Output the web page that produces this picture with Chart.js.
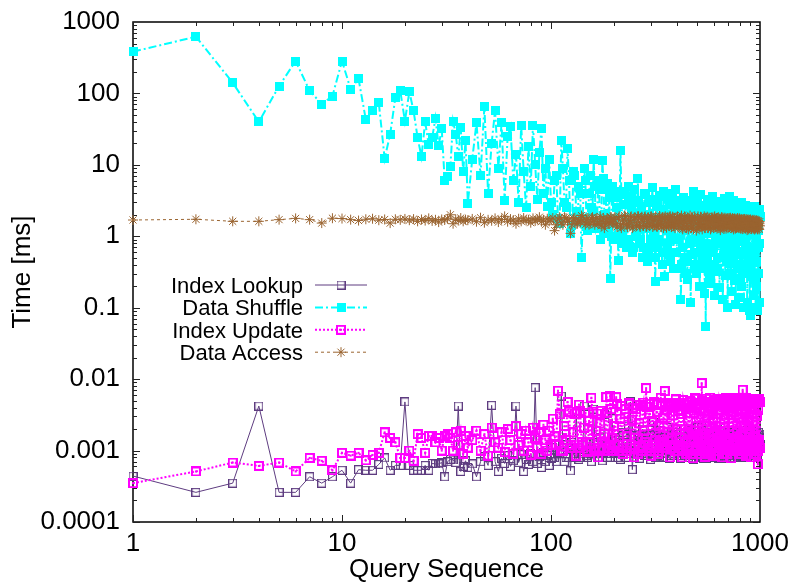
<!DOCTYPE html>
<html>
<head>
<meta charset="utf-8">
<script src="https://cdn.jsdelivr.net/npm/chart.js@4"></script>
<style>
  html, body { margin: 0; padding: 0; background: #fff; }
  canvas { display: block; }
</style>
</head>
<body>
<canvas id="chart" width="795" height="583"></canvas>
<script>
const queries = [
  1, 2, 3, 4, 5, 6, 7, 8, 9, 10, 11, 12, 13, 14, 15, 16, 17, 18, 19, 20,
  21, 22, 23, 24, 25, 26, 27, 28, 29, 30, 31, 32, 33, 34, 35, 36, 37, 38, 39, 40,
  42, 44, 46, 48, 50, 52, 54, 56, 58, 60, 62, 64, 66, 68, 70, 72, 74, 76, 78, 80,
  82, 84, 86, 88, 90, 92, 94, 96, 98, 100,
  102, 104, 106, 108, 110, 112, 114, 116, 118, 120, 122, 124, 126, 128, 130, 132, 134, 136, 138, 140,
  142, 144, 146, 148, 150, 152, 154, 156, 158, 160, 162, 164, 166, 168, 170, 172, 174, 176, 178, 180,
  182, 184, 186, 188, 190, 192, 194, 196, 198, 200,
  202, 205, 207, 210, 212, 215, 217, 220, 222, 225, 227, 230, 232, 235, 237, 240, 242, 245, 247, 250,
  252, 255, 257, 260, 262, 265, 267, 270, 272, 275, 277, 280, 282, 285, 287, 290, 292, 295, 297, 300,
  302, 305, 307, 310, 312, 315, 317, 320, 322, 325, 327, 330, 332, 335, 337, 340, 342, 345, 347, 350,
  352, 355, 357, 360, 362, 365, 367, 370, 372, 375, 377, 380, 382, 385, 387, 390, 392, 395, 397, 400,
  403, 406, 409, 412, 415, 418, 421, 424, 427, 430, 433, 436, 439, 442, 445, 448, 451, 454, 457, 460,
  463, 466, 469, 472, 475, 478, 481, 484, 487, 490, 493, 496, 499, 502, 505, 508, 511, 514, 517, 520,
  523, 526, 529, 532, 535, 538, 541, 544, 547, 550, 553, 556, 559, 562, 565, 568, 571, 574, 577, 580,
  583, 586, 589, 592, 595, 598, 601, 604, 607, 610, 613, 616, 619, 622, 625, 628, 631, 634, 637, 640,
  643, 646, 649, 652, 655, 658, 661, 664, 667, 670, 673, 676, 679, 682, 685, 688, 691, 694, 697, 700,
  703, 706, 709, 712, 715, 718, 721, 724, 727, 730, 733, 736, 739, 742, 745, 748, 751, 754, 757, 760,
  763, 766, 769, 772, 775, 778, 781, 784, 787, 790, 793, 796, 799, 802, 805, 808, 811, 814, 817, 820,
  823, 826, 829, 832, 835, 838, 841, 844, 847, 850, 853, 856, 859, 862, 865, 868, 871, 874, 877, 880,
  883, 886, 889, 892, 895, 898, 901, 904, 907, 910, 913, 916, 919, 922, 925, 928, 931, 934, 937, 940,
  943, 946, 949, 952, 955, 958, 961, 964, 967, 970, 973, 976, 979, 982, 985, 988, 991, 994, 997, 1000
];

const indexLookup = [
  0.00044, 0.00026, 0.00035, 0.0042, 0.00026, 0.00026, 0.00043, 0.00035, 0.00043, 0.00053,
  0.00035, 0.00054, 0.00053, 0.00053, 0.00064, 0.00079, 0.00053, 0.00062, 0.00062, 0.0048,
  0.00062, 0.00053, 0.00053, 0.00053, 0.00062, 0.00053, 0.00066, 0.00065, 0.00065, 0.00068,
  0.00043, 0.0007, 0.00075, 0.00074, 0.00068, 0.0042, 0.00051, 0.0006, 0.00072, 0.00058,
  0.00065, 0.00043, 0.0007, 0.00082, 0.00062, 0.0043, 0.0007, 0.00051, 0.00078, 0.00066,
  0.00085, 0.0006, 0.00072, 0.0042, 0.00068, 0.00088, 0.00051, 0.00075, 0.00064, 0.0009,
  0.0007, 0.0076, 0.00066, 0.00082, 0.00058, 0.00095, 0.0007, 0.00085, 0.00062, 0.00078,
  0.0011, 0.0008, 0.0007, 0.00095, 0.0009, 0.0058, 0.0012, 0.0007, 0.0008, 0.0011,
  0.0011, 0.00052, 0.0013, 0.0009, 0.0008, 0.0035, 0.0011, 0.00075, 0.0008, 0.0012,
  0.0009, 0.0042, 0.0013, 0.00085, 0.0008, 0.0013, 0.0011, 0.0007, 0.0009, 0.0038,
  0.0013, 0.001, 0.0011, 0.0008, 0.0008, 0.0015, 0.0012, 0.00072, 0.0009, 0.0032,
  0.0013, 0.0009, 0.0008, 0.0012, 0.0011, 0.0008, 0.0009, 0.0028, 0.0012, 0.001,
  0.0015, 0.0009, 0.0008, 0.0014, 0.0013, 0.00075, 0.001, 0.0018, 0.0016, 0.001,
  0.0013, 0.0008, 0.0009, 0.0022, 0.0011, 0.0048, 0.0016, 0.00054, 0.0008, 0.0012,
  0.0015, 0.0009, 0.001, 0.0016, 0.0017, 0.00078, 0.0014, 0.0011, 0.0009, 0.002,
  0.0016, 0.00085, 0.00085, 0.0013, 0.0014, 0.0009, 0.001, 0.0017, 0.0016, 0.00075,
  0.0009, 0.0012, 0.0012, 0.0025, 0.0017, 0.0008, 0.0009, 0.0011, 0.00085, 0.0015,
  0.0016, 0.00082, 0.0009, 0.0019, 0.0015, 0.001, 0.0013, 0.0008, 0.0009, 0.0014,
  0.0016, 0.0009, 0.0009, 0.0021, 0.0015, 0.0011, 0.0013, 0.00078, 0.00085, 0.0016,
  0.0017, 0.0009, 0.0009, 0.0012, 0.0016, 0.00085, 0.001, 0.0018, 0.0014, 0.001,
  0.0013, 0.0009, 0.00085, 0.0015, 0.0017, 0.00078, 0.00095, 0.0012, 0.0011, 0.002,
  0.0018, 0.00085, 0.0009, 0.0011, 0.0012, 0.0016, 0.0015, 0.0008, 0.00088, 0.0013,
  0.0016, 0.00095, 0.001, 0.0019, 0.0014, 0.00075, 0.00085, 0.0012, 0.0019, 0.0009,
  0.0009, 0.0017, 0.0013, 0.0011, 0.0021, 0.0008, 0.00082, 0.0014, 0.0017, 0.001,
  0.0009, 0.0022, 0.0015, 0.00082, 0.00078, 0.0012, 0.0018, 0.0009, 0.001, 0.0016,
  0.0014, 0.00078, 0.0019, 0.0011, 0.00085, 0.0013, 0.0016, 0.00088, 0.001, 0.0018,
  0.0017, 0.001, 0.0013, 0.0008, 0.0009, 0.0015, 0.0018, 0.0011, 0.0012, 0.00085,
  0.00088, 0.0013, 0.0016, 0.0009, 0.001, 0.002, 0.0014, 0.00078, 0.0019, 0.0012,
  0.0015, 0.001, 0.00085, 0.0016, 0.0013, 0.00082, 0.0018, 0.0011, 0.0009, 0.0014,
  0.0016, 0.0009, 0.00078, 0.0012, 0.0014, 0.0008, 0.001, 0.0017, 0.0019, 0.001,
  0.0016, 0.00085, 0.0009, 0.0013, 0.0018, 0.0011, 0.0013, 0.00078, 0.001, 0.0015,
  0.0017, 0.0009, 0.00085, 0.0012, 0.0011, 0.0019, 0.0015, 0.0008, 0.0018, 0.0011,
  0.0017, 0.001, 0.0009, 0.0014, 0.0015, 0.00085, 0.00082, 0.0012, 0.0018, 0.0009,
  0.0011, 0.0016, 0.0014, 0.0008, 0.0017, 0.0011, 0.00085, 0.0013, 0.0016, 0.00088,
  0.0009, 0.0015, 0.0016, 0.001, 0.0014, 0.00082, 0.0018, 0.0012, 0.001, 0.0017,
  0.0015, 0.0009, 0.0019, 0.0011, 0.0013, 0.0008, 0.00088, 0.0014, 0.0017, 0.001,
  0.0018, 0.0012, 0.0014, 0.00085, 0.001, 0.0016, 0.0017, 0.0009, 0.0019, 0.0011,
  0.00088, 0.0013, 0.0016, 0.0008, 0.0011, 0.0015, 0.0018, 0.001, 0.0009, 0.0012,
  0.0016, 0.0009, 0.0009, 0.0014, 0.0019, 0.0011, 0.0012, 0.0018, 0.0017, 0.00085,
  0.00095, 0.0013, 0.0011, 0.0016, 0.0018, 0.001, 0.0013, 0.0015, 0.0017, 0.0012
];

const dataShuffle = [
  384, 622, 141, 40, 127, 284, 109, 71, 92, 284,
  115, 160, 43, 57, 74, 12.2, 27, 87, 109, 41,
  106, 57, 24, 13, 40, 19, 24, 45, 18.6, 32,
  6, 6.8, 9.4, 41, 27, 13, 33, 8, 22, 2.9,
  12, 39, 7, 65, 4, 20, 58, 9, 39, 3.2,
  25, 34, 6, 14, 3, 36, 8, 2.5, 18, 5,
  36, 10, 3.3, 15, 32, 4, 9, 2.6, 12, 3,
  2.0, 6, 7, 1.8, 1.5, 22, 9, 3, 2.5, 17,
  6, 1.1, 1.4, 8, 7, 2.2, 1.6, 5, 4, 0.5,
  1.8, 9, 6, 1.5, 1.2, 4, 7, 2.5, 2.2, 12,
  5, 1.3, 1.5, 6, 4.5, 0.9, 1.4, 11.5, 6.5, 2,
  1.1, 4.5, 5.5, 1.2, 3.5, 0.26, 1.0, 5, 4.0, 1.6,
  0.9, 2.5, 3.5, 0.46, 1.0, 16, 4.2, 1.2, 0.8, 3.8,
  2.8, 0.7, 0.9, 5, 3.6, 1.5, 2.4, 0.6, 0.7, 3,
  4.5, 1, 1.1, 6.5, 3.2, 0.8, 0.9, 2.2, 2.6, 0.5,
  0.7, 4, 3.8, 1.3, 2.0, 0.45, 0.6, 3.2, 3.0, 0.9,
  0.8, 4.8, 3.3, 1.1, 1.8, 0.23, 0.5, 2.6, 2.9, 0.7,
  0.9, 3.6, 3.7, 1.6, 1.9, 0.4, 0.6, 4.2, 2.4, 0.27,
  4.0, 2, 1.3, 0.8, 0.6, 3.5, 2.8, 0.55, 0.45, 1.8,
  1.2, 4, 3.0, 0.35, 0.9, 2.4, 1.4, 4.5, 3.2, 0.6,
  0.9, 2.8, 1.6, 0.35, 2.4, 0.13, 0.4, 1.9, 0.7, 3.5,
  2.1, 0.5, 0.3, 1.2, 1.7, 0.25, 0.45, 2.6, 3.0, 0.8,
  1.5, 0.12, 0.55, 3.2, 0.9, 4.2, 2.5, 0.6, 0.4, 1.6,
  1.9, 0.3, 0.6, 2.9, 2.3, 0.9, 1.2, 0.2, 0.7, 3.8,
  0.35, 1.4, 2.0, 0.45, 0.6, 2.2, 1.4, 0.16, 0.8, 0.054,
  2.7, 1.1, 0.5, 3.3, 1.8, 0.38, 0.28, 1.7, 2.2, 0.22,
  0.6, 2.7, 1.1, 3.6, 2.3, 0.7, 1.8, 0.15, 0.4, 1.3,
  0.9, 2.5, 2.0, 0.32, 0.35, 0.9, 1.2, 3.1, 2.6, 0.19,
  0.5, 1.8, 2.4, 0.5, 0.8, 2.9, 1.5, 0.13, 2.8, 1.1,
  0.6, 3.4, 1.6, 0.28, 2.2, 0.75, 0.45, 2.3, 1.7, 0.1,
  0.55, 1.5, 1.2, 3.6, 2.5, 0.42, 0.3, 1.0, 1.9, 0.17,
  0.8, 2.6, 2.2, 0.6, 0.5, 3.2, 1.4, 0.24, 2.9, 1.3,
  0.7, 0.11, 1.3, 2.1, 2.4, 0.55, 0.4, 2.8, 1.7, 0.14,
  2.3, 1.2, 0.9, 0.35, 0.26, 2.4, 1.1, 3.0, 1.8, 0.2,
  2.5, 0.85, 0.4, 2.2, 1.5, 0.1, 0.6, 1.6, 2.1, 0.3,
  0.8, 2.7, 1.9, 0.65, 2.4, 0.12, 0.35, 1.9, 1.3, 0.45,
  0.7, 2.5, 1.6, 0.09, 2.2, 1.1, 0.5, 0.078, 1.2, 2.3,
  2.0, 0.27, 0.3, 1.4, 2.3, 0.15, 0.6, 2.0, 1.5, 0.5,
  0.25, 2.6, 1.7, 0.1, 2.1, 1.0, 0.45, 0.2, 1.0, 1.8,
  2.2, 0.09, 0.3, 0.7, 1.2, 1.5, 2.4, 0.12, 0.8, 1.9
];

const indexUpdate = [
  0.00035, 0.00051, 0.00068, 0.00061, 0.00068, 0.00051, 0.00079, 0.00072, 0.00053, 0.00093,
  0.00085, 0.00093, 0.00073, 0.00087, 0.00093, 0.0018, 0.0015, 0.0013, 0.00079, 0.00079,
  0.001, 0.00072, 0.0017, 0.0015, 0.00093, 0.0016, 0.0016, 0.0013, 0.0015, 0.001,
  0.0016, 0.0017, 0.0015, 0.001, 0.0018, 0.0012, 0.0019, 0.0009, 0.0016, 0.0011,
  0.0014, 0.0019, 0.001, 0.0017, 0.00085, 0.0021, 0.0013, 0.0011, 0.0018, 0.00095,
  0.002, 0.0014, 0.0009, 0.0022, 0.0012, 0.0017, 0.001, 0.0019, 0.0013, 0.00088,
  0.0021, 0.0015, 0.0011, 0.0018, 0.0009, 0.0023, 0.0014, 0.001, 0.0019, 0.0012,
  0.0028, 0.0016, 0.0012, 0.0069, 0.0032, 0.001, 0.001, 0.0022, 0.0014, 0.0048,
  0.0035, 0.0012, 0.0011, 0.0018, 0.0033, 0.00085, 0.0011, 0.0044, 0.0036, 0.0013,
  0.0012, 0.0021, 0.0034, 0.00095, 0.001, 0.0026, 0.0013, 0.0055, 0.0035, 0.0011,
  0.001, 0.0019, 0.0033, 0.0008, 0.0011, 0.0024, 0.0036, 0.0013, 0.001, 0.0017,
  0.0013, 0.0056, 0.0034, 0.001, 0.0011, 0.0058, 0.0038, 0.0015, 0.001, 0.0022,
  0.0012, 0.0056, 0.0045, 0.0012, 0.001, 0.0028, 0.0042, 0.0009, 0.0011, 0.0033,
  0.0038, 0.0016, 0.001, 0.0045, 0.0046, 0.0011, 0.0012, 0.0027, 0.004, 0.0008,
  0.0011, 0.0038, 0.0044, 0.0015, 0.0009, 0.0024, 0.0043, 0.001, 0.0011, 0.0042,
  0.0047, 0.0019, 0.0013, 0.0075, 0.0041, 0.0012, 0.0011, 0.0032, 0.0045, 0.00085,
  0.001, 0.0026, 0.0012, 0.0048, 0.0046, 0.0014, 0.0011, 0.0035, 0.0044, 0.0009,
  0.001, 0.0022, 0.0013, 0.0055, 0.0046, 0.0013, 0.0011, 0.0029, 0.0012, 0.0068,
  0.0045, 0.0011, 0.0011, 0.0037, 0.0046, 0.0018, 0.0042, 0.0008, 0.0012, 0.0044,
  0.0047, 0.0015, 0.0011, 0.0031, 0.0044, 0.001, 0.0012, 0.0052, 0.0046, 0.002,
  0.0012, 0.0045, 0.0036, 0.0011, 0.0015, 0.0032, 0.0042, 0.0008, 0.001, 0.0051,
  0.0046, 0.0017, 0.0013, 0.0038, 0.0044, 0.0009, 0.0018, 0.0026, 0.0011, 0.0049,
  0.0039, 0.0013, 0.0009, 0.0041, 0.0047, 0.00078, 0.0014, 0.0034, 0.0055, 0.0019,
  0.0011, 0.0053, 0.004, 0.001, 0.0016, 0.0029, 0.0009, 0.0046, 0.0043, 0.0012,
  0.0017, 0.0088, 0.0049, 0.0015, 0.001, 0.0036, 0.0044, 0.00082, 0.0012, 0.0048,
  0.0053, 0.0022, 0.0011, 0.0031, 0.0042, 0.0009, 0.0016, 0.0055, 0.0046, 0.0014,
  0.0009, 0.0039, 0.0047, 0.0011, 0.0014, 0.0027, 0.0012, 0.005, 0.0045, 0.00085,
  0.0011, 0.0043, 0.0051, 0.0018, 0.0013, 0.0033, 0.0048, 0.001, 0.0015, 0.0052,
  0.0049, 0.0016, 0.0011, 0.0037, 0.0043, 0.0008, 0.0013, 0.0046, 0.0052, 0.0021,
  0.0009, 0.0028, 0.0045, 0.0012, 0.0014, 0.0054, 0.005, 0.0009, 0.0012, 0.004,
  0.0046, 0.0015, 0.0013, 0.0049, 0.0052, 0.0011, 0.001, 0.0031, 0.0041, 0.00078,
  0.0012, 0.0044, 0.0054, 0.0024, 0.0011, 0.0035, 0.0047, 0.001, 0.0014, 0.0053,
  0.005, 0.0013, 0.001, 0.0038, 0.0048, 0.0019, 0.0012, 0.0047, 0.0053, 0.0009,
  0.0011, 0.0029, 0.0014, 0.0051, 0.0049, 0.0012, 0.0009, 0.0036, 0.0045, 0.0016,
  0.0012, 0.0071, 0.0051, 0.001, 0.0013, 0.0042, 0.0046, 0.0022, 0.001, 0.0033,
  0.0054, 0.00085, 0.0011, 0.0049, 0.0048, 0.0014, 0.0044, 0.0027, 0.0012, 0.0052,
  0.0049, 0.0011, 0.0012, 0.0039, 0.0052, 0.0018, 0.001, 0.0045, 0.0047, 0.0008,
  0.0013, 0.0034, 0.0011, 0.0025, 0.0014, 0.0053, 0.005, 0.0012, 0.0009, 0.0041,
  0.0046, 0.0016, 0.0012, 0.0048, 0.0053, 0.0009, 0.0011, 0.003, 0.0013, 0.0051,
  0.0049, 0.00064, 0.001, 0.0037, 0.0052, 0.0014, 0.0012, 0.005, 0.0048, 0.0011
];

const dataAccess = [
  1.69, 1.73, 1.62, 1.62, 1.71, 1.78, 1.71, 1.53, 1.79, 1.77,
  1.71, 1.66, 1.73, 1.76, 1.68, 1.72, 1.53, 1.73, 1.7, 1.75,
  1.68, 1.74, 1.62, 1.72, 1.66, 1.78, 1.64, 1.7, 1.58, 1.72,
  1.69, 1.76, 2.0, 1.5, 1.73, 1.66, 1.8, 1.62, 1.71, 1.68,
  1.75, 1.6, 1.82, 1.55, 1.7, 1.65, 1.78, 1.58, 1.72, 1.9,
  1.6, 1.74, 1.68, 1.5, 1.76, 1.62, 1.8, 1.66, 1.7, 1.55,
  1.78, 1.64, 1.72, 1.85, 1.6, 1.7, 1.45, 1.76, 1.62, 1.7,
  1.8, 1.2, 1.45, 1.75, 1.85, 1.55, 1.45, 1.85, 1.8, 1.62,
  1.7, 1.1, 1.45, 1.78, 1.82, 1.5, 1.5, 1.7, 1.6, 1.95,
  1.85, 1.58, 1.45, 1.72, 1.8, 1.45, 1.5, 1.8, 1.85, 1.6,
  1.45, 1.75, 1.8, 1.5, 1.5, 1.9, 1.4, 1.62, 1.8, 1.3,
  1.45, 1.7, 1.8, 1.55, 1.5, 1.85, 1.85, 1.6, 1.45, 1.72,
  1.85, 1.5, 1.35, 1.82, 1.9, 1.4, 1.3, 1.7, 1.5, 1.95,
  1.88, 1.45, 1.35, 1.65, 1.45, 1.85, 1.9, 1.3, 1.35, 1.75,
  1.85, 1.55, 1.4, 1.9, 1.9, 1.42, 1.35, 1.7, 1.88, 1.6,
  1.4, 1.85, 1.9, 1.35, 1.38, 1.72, 1.85, 1.52, 1.4, 1.88,
  1.9, 1.48, 1.35, 1.68, 1.42, 1.8, 1.9, 1.38, 1.35, 1.62,
  1.45, 1.92, 1.88, 1.5, 1.35, 1.7, 1.85, 1.3, 1.4, 1.82,
  1.9, 1.58, 1.32, 1.75, 1.85, 1.45, 1.4, 1.88, 1.9, 1.55,
  1.35, 1.68, 1.88, 1.4, 1.38, 1.8, 1.3, 1.6, 1.85, 1.5,
  1.9, 1.45, 1.35, 1.8, 1.75, 1.55, 1.95, 1.3, 1.25, 1.7,
  1.5, 1.9, 1.85, 1.4, 1.3, 1.62, 1.8, 1.25, 1.4, 1.75,
  1.95, 1.5, 1.3, 1.85, 1.8, 1.35, 1.25, 1.68, 1.9, 1.58,
  1.7, 1.2, 1.3, 1.78, 1.9, 1.45, 1.35, 1.65, 1.5, 1.88,
  1.85, 1.38, 1.25, 1.6, 1.4, 1.72, 1.9, 1.3, 1.35, 1.82,
  1.8, 1.5, 1.88, 1.42, 1.3, 1.7, 1.82, 1.55, 1.7, 1.25,
  1.3, 1.75, 1.85, 1.62, 1.78, 1.4, 1.3, 1.85, 1.9, 1.48,
  1.35, 1.68, 1.8, 1.32, 1.4, 1.78, 1.85, 1.52, 1.3, 1.6,
  1.78, 1.22, 1.3, 1.72, 1.85, 1.45, 1.4, 1.82, 1.75, 1.38,
  1.28, 1.62, 1.82, 1.55, 1.7, 1.28, 1.35, 1.75, 1.8, 1.48,
  1.3, 1.66, 1.78, 1.35, 1.35, 1.8, 1.82, 1.5, 1.75, 1.42,
  1.3, 1.7, 1.8, 1.58, 1.72, 1.25, 1.32, 1.76, 1.78, 1.45,
  1.28, 1.62, 1.75, 1.32, 1.35, 1.72, 1.8, 1.5, 1.7, 1.4,
  1.3, 1.78, 1.76, 1.55, 1.68, 1.28, 1.3, 1.68, 1.74, 1.44,
  1.26, 1.6, 1.72, 1.35, 1.32, 1.74, 1.75, 1.48, 1.7, 1.3,
  1.28, 1.65, 1.74, 1.52, 1.66, 1.22, 1.3, 1.7, 1.72, 1.42,
  1.25, 1.58, 1.7, 1.33, 1.3, 1.68, 1.72, 1.45, 1.65, 1.28,
  1.26, 1.62, 1.7, 1.5, 1.64, 1.36, 1.28, 1.66, 1.7, 1.4,
  1.24, 1.55, 1.66, 1.3, 1.28, 1.62, 1.68, 1.45, 1.62, 1.35,
  1.25, 1.58, 1.66, 1.42, 1.6, 1.3, 1.25, 1.5, 1.6, 1.4
];

const seriesNames = ["Index Lookup", "Data Shuffle", "Index Update", "Data Access"];
const xTicks = [1, 10, 100, 1000];
const yTicks = [0.0001, 0.001, 0.01, 0.1, 1, 10, 100, 1000];

const FONT = '"Liberation Sans", Arial, Helvetica, sans-serif';
const PURPLE = "#5e3c80";
const CYAN = "#00ffff";
const MAGENTA = "#ff00ff";
const BROWN = "#9a6430";

// little bitmaps for the gnuplot-like point types
function squareMark(size, color, filled, lw, dot) {
  const c = document.createElement("canvas");
  c.width = size;
  c.height = size;
  const g = c.getContext("2d");
  if (filled) {
    g.fillStyle = color;
    g.fillRect(0, 0, size, size);
  } else {
    g.strokeStyle = color;
    g.lineWidth = lw;
    g.strokeRect(lw / 2, lw / 2, size - lw, size - lw);
  }
  if (dot) {
    g.fillStyle = color;
    g.fillRect(size / 2 - 1, size / 2 - 1, 2, 2);
  }
  return c;
}

const lookupMark = squareMark(9, PURPLE, false, 1.2, false);
const shuffleMark = squareMark(9, CYAN, true, 0, false);
const updateMark = squareMark(10, MAGENTA, false, 2, true);

const pts = vals => queries.map((q, i) => ({ x: q, y: vals[i] }));

const framePlugin = {
  id: "frame",
  beforeDatasetsDraw(chart) {
    const { ctx, chartArea: a, scales } = chart;
    ctx.save();
    ctx.strokeStyle = "#000";
    ctx.lineWidth = 1.5;
    ctx.strokeRect(a.left, a.top, a.right - a.left, a.bottom - a.top);
    ctx.lineWidth = 1;
    ctx.strokeStyle = "#222";
    ctx.beginPath();
    for (let d = 1; d < 1000; d *= 10) {
      for (let m = 1; m <= 9; m++) {
        const px = Math.round(scales.x.getPixelForValue(d * m)) + 0.5;
        const len = m === 1 ? 7 : 4;
        ctx.moveTo(px, a.bottom); ctx.lineTo(px, a.bottom - len);
        ctx.moveTo(px, a.top); ctx.lineTo(px, a.top + len);
      }
    }
    for (let e = -4; e < 3; e++) {
      const d = Math.pow(10, e);
      for (let m = 1; m <= 9; m++) {
        const py = Math.round(scales.y.getPixelForValue(d * m)) + 0.5;
        const len = m === 1 ? 7 : 4;
        ctx.moveTo(a.left, py); ctx.lineTo(a.left + len, py);
        ctx.moveTo(a.right, py); ctx.lineTo(a.right - len, py);
      }
    }
    ctx.stroke();
    ctx.restore();
  }
};

const keyPlugin = {
  id: "key",
  afterDraw(chart) {
    const ctx = chart.ctx;
    ctx.save();
    ctx.font = "22px " + FONT;
    ctx.textAlign = "right";
    ctx.textBaseline = "alphabetic";
    chart.data.datasets.forEach((ds, i) => {
      const y = 285 + i * 22.4;
      ctx.fillStyle = "#000";
      ctx.fillText(ds.label, 303, y + 8);
      ctx.strokeStyle = ds.borderColor;
      ctx.lineWidth = ds.borderWidth;
      ctx.setLineDash(ds.borderDash || []);
      ctx.beginPath();
      ctx.moveTo(315, y);
      ctx.lineTo(367, y);
      ctx.stroke();
      ctx.setLineDash([]);
      if (ds.pointStyle instanceof HTMLCanvasElement) {
        const m = ds.pointStyle;
        ctx.drawImage(m, 341 - m.width / 2, y - m.height / 2);
      } else {
        ctx.strokeStyle = ds.pointBorderColor;
        ctx.fillStyle = ds.pointBorderColor;
        Chart.helpers.drawPoint(ctx, { pointStyle: ds.pointStyle, radius: ds.pointRadius, borderWidth: ds.pointBorderWidth }, 341, y);
      }
    });
    ctx.restore();
  }
};

new Chart(document.getElementById("chart"), {
  type: "line",
  data: {
    datasets: [
      {
        label: seriesNames[0], data: pts(indexLookup), order: 4,
        borderColor: PURPLE, borderWidth: 1, pointStyle: lookupMark, pointRadius: 5
      },
      {
        label: seriesNames[1], data: pts(dataShuffle), order: 3,
        borderColor: CYAN, borderWidth: 2, borderDash: [8, 3, 2, 3], pointStyle: shuffleMark, pointRadius: 5
      },
      {
        label: seriesNames[2], data: pts(indexUpdate), order: 2,
        borderColor: MAGENTA, borderWidth: 2, borderDash: [2, 2], pointStyle: updateMark, pointRadius: 5
      },
      {
        label: seriesNames[3], data: pts(dataAccess), order: 1,
        borderColor: BROWN, borderWidth: 1, borderDash: [3, 3], pointStyle: "star", pointRadius: 5,
        pointBorderColor: BROWN, pointBackgroundColor: BROWN, pointBorderWidth: 1
      }
    ]
  },
  options: {
    responsive: false,
    animation: false,
    clip: 8,
    layout: { padding: { left: 0, top: 22, right: 35, bottom: 0 } },
    elements: { line: { tension: 0, fill: false } },
    plugins: { legend: { display: false }, tooltip: { enabled: false } },
    scales: {
      x: {
        type: "logarithmic", min: 1, max: 1000,
        grid: { display: false, drawTicks: false },
        border: { display: false },
        afterBuildTicks: s => { s.ticks = xTicks.map(v => ({ value: v })); },
        afterFit: s => { s.height = 61; s.paddingLeft = 0; s.paddingRight = 0; },
        ticks: {
          autoSkip: false, maxRotation: 0, padding: 6, color: "#000",
          font: { family: FONT, size: 26 },
          callback: v => String(v)
        },
        title: {
          display: true, text: "Query Sequence", color: "#000",
          font: { family: FONT, size: 26, lineHeight: 1 },
          padding: { top: 0, bottom: 0 }
        }
      },
      y: {
        type: "logarithmic", min: 0.0001, max: 1000,
        grid: { display: false, drawTicks: false },
        border: { display: false },
        afterBuildTicks: s => { s.ticks = yTicks.map(v => ({ value: v })); },
        afterFit: s => { s.width = 133; s.paddingTop = 0; s.paddingBottom = 0; },
        ticks: {
          autoSkip: false, padding: 13, color: "#000",
          font: { family: FONT, size: 26 },
          callback: v => String(v)
        },
        title: {
          display: true, text: "Time [ms]", color: "#000",
          font: { family: FONT, size: 26, lineHeight: 1 },
          padding: { top: 10, bottom: 0 }
        }
      }
    }
  },
  plugins: [framePlugin, keyPlugin]
});
</script>
</body>
</html>
